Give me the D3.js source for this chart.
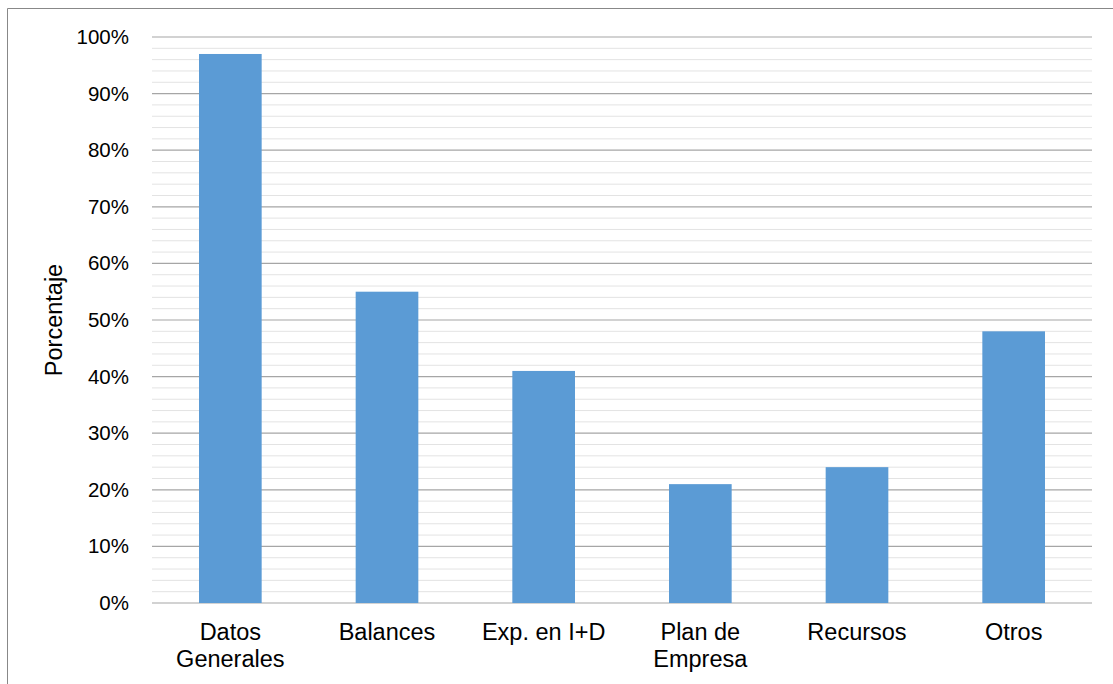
<!DOCTYPE html>
<html>
<head>
<meta charset="utf-8">
<script src="https://cdn.jsdelivr.net/npm/d3@7"></script>
<style>
  body { margin: 0; background: #fff; }
  text { font-family: "Liberation Sans", Arial, sans-serif; fill: #000; }
</style>
</head>
<body>
<div class="chart"></div>
<script>
var categories = [["Datos", "Generales"], ["Balances"], ["Exp. en I+D"], ["Plan de", "Empresa"], ["Recursos"], ["Otros"]];
var values = [97, 55, 41, 21, 24, 48];
var majorTicks = [0, 10, 20, 30, 40, 50, 60, 70, 80, 90, 100];
var minorTicks = d3.range(0, 101, 2);

var svgWidth = 1113;
var svgHeight = 684;

var margin = { top: 37, right: 21, bottom: 81, left: 152 };
var width = svgWidth - margin.left - margin.right;
var height = svgHeight - margin.top - margin.bottom;

var svg = d3.select(".chart")
  .append("svg")
  .attr("width", svgWidth)
  .attr("height", svgHeight);

// outer chart border (left and top only visible)
svg.append("path")
  .attr("d", "M7.5," + svgHeight + "V8.5H" + svgWidth)
  .attr("fill", "none")
  .attr("stroke", "#888")
  .attr("stroke-width", 1);

var chartGroup = svg.append("g")
  .attr("transform", `translate(${margin.left}, ${margin.top})`);

var xScale = d3.scaleBand()
  .domain(d3.range(categories.length))
  .range([0, width])
  .paddingInner(0.6)
  .paddingOuter(0.3);

var yScale = d3.scaleLinear()
  .domain([0, 100])
  .range([height, 0]);

// minor gridlines
chartGroup.append("g")
  .selectAll("line")
  .data(minorTicks.filter(d => d % 10 !== 0))
  .enter()
  .append("line")
  .attr("x1", 0)
  .attr("x2", width)
  .attr("y1", d => yScale(d))
  .attr("y2", d => yScale(d))
  .attr("stroke", "#e3e3e3")
  .attr("stroke-width", 1);

// major gridlines
chartGroup.append("g")
  .selectAll("line")
  .data(majorTicks)
  .enter()
  .append("line")
  .attr("x1", 0)
  .attr("x2", width)
  .attr("y1", d => yScale(d))
  .attr("y2", d => yScale(d))
  .attr("stroke", "#a6a6a6")
  .attr("stroke-width", 1.2);

// bars
chartGroup.selectAll("rect")
  .data(values)
  .enter()
  .append("rect")
  .attr("x", (d, i) => xScale(i))
  .attr("y", d => yScale(d))
  .attr("width", xScale.bandwidth())
  .attr("height", d => height - yScale(d))
  .attr("fill", "#5b9bd5");

// y axis labels
var yAxis = d3.axisLeft(yScale)
  .tickValues(majorTicks)
  .tickFormat(d => d + "%")
  .tickSize(0)
  .tickPadding(23);

chartGroup.append("g")
  .call(yAxis)
  .call(g => g.select(".domain").remove())
  .selectAll("text")
  .style("font-size", "20.5px")
  .attr("fill", "#000");

// x axis labels
var xLabels = chartGroup.append("g")
  .attr("transform", `translate(0, ${height})`)
  .selectAll("text")
  .data(categories)
  .enter()
  .append("text")
  .attr("x", (d, i) => xScale(i) + xScale.bandwidth() / 2)
  .attr("y", 37)
  .attr("text-anchor", "middle")
  .style("font-size", "23.5px");

xLabels.selectAll("tspan")
  .data(d => d)
  .enter()
  .append("tspan")
  .attr("x", function() { return d3.select(this.parentNode).attr("x"); })
  .attr("dy", (d, i) => i === 0 ? 0 : 27)
  .text(d => d);

// axis title
chartGroup.append("text")
  .attr("transform", "rotate(-90)")
  .attr("x", 0 - (height / 2))
  .attr("y", 0 - margin.left + 62)
  .attr("text-anchor", "middle")
  .style("font-size", "23.5px")
  .text("Porcentaje");
</script>
</body>
</html>
